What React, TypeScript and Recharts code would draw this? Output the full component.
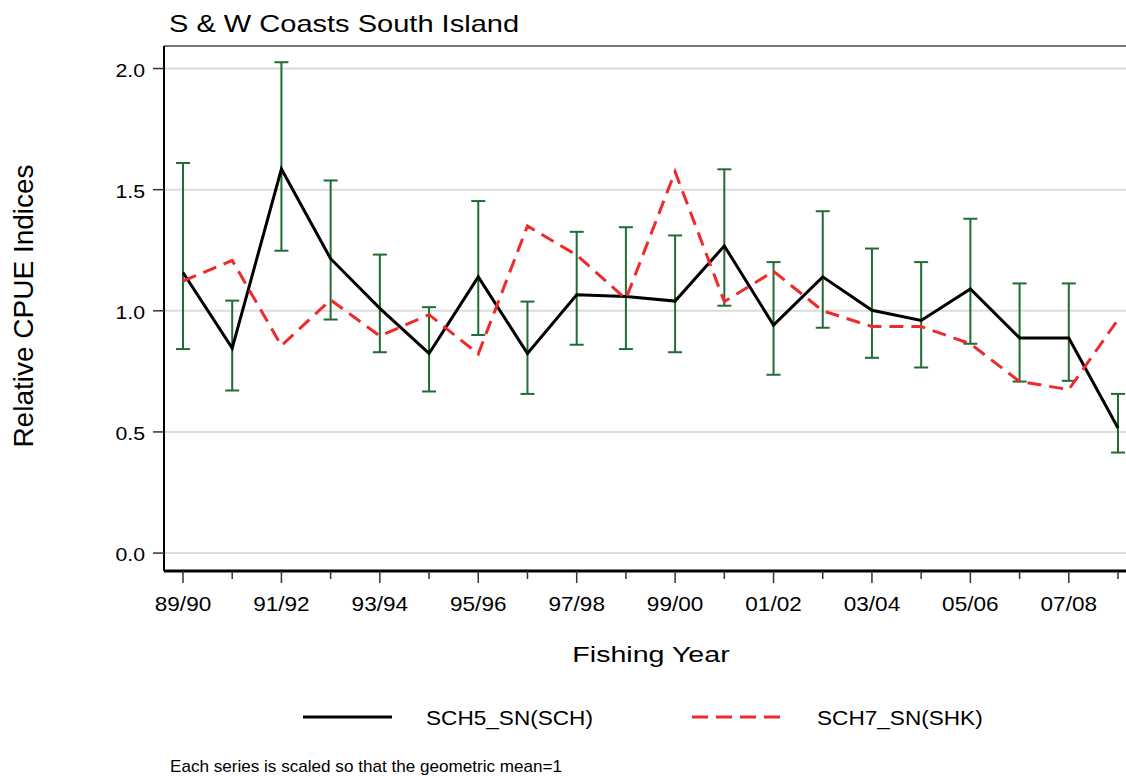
import React from 'react';
import { LineChart, Line, XAxis, YAxis, CartesianGrid, ErrorBar, ReferenceLine, Legend } from 'recharts';

const years = [
  '89/90', '90/91', '91/92', '92/93', '93/94', '94/95', '95/96', '96/97', '97/98', '98/99',
  '99/00', '00/01', '01/02', '02/03', '03/04', '04/05', '05/06', '06/07', '07/08', '08/09',
];

// SCH5_SN(SCH) index with confidence bounds
const sch5 = [1.158, 0.846, 1.585, 1.215, 1.01, 0.824, 1.14, 0.824, 1.066, 1.059, 1.04, 1.268, 0.941, 1.14, 1.002, 0.96, 1.09, 0.888, 0.888, 0.516];
const sch5Lower = [0.842, 0.671, 1.248, 0.964, 0.829, 0.667, 0.9, 0.657, 0.86, 0.842, 0.829, 1.021, 0.736, 0.93, 0.806, 0.766, 0.864, 0.708, 0.711, 0.415];
const sch5Upper = [1.61, 1.042, 2.026, 1.538, 1.232, 1.015, 1.453, 1.038, 1.326, 1.345, 1.311, 1.584, 1.201, 1.411, 1.257, 1.201, 1.38, 1.113, 1.113, 0.657];

// SCH7_SN(SHK) index
const sch7 = [1.123, 1.208, 0.856, 1.045, 0.896, 0.984, 0.822, 1.35, 1.23, 1.049, 1.574, 1.038, 1.163, 1.0, 0.935, 0.935, 0.864, 0.708, 0.675, 0.964];

const yTicks = [0, 0.5, 1, 1.5, 2];
const yMin = -0.074;
const yMax = 2.093;

const FONT = '"Liberation Sans", Arial, sans-serif';
const GREEN = '#216B35';
const RED = '#EE2A2A';

const table = years.map((year, i) => ({
  idx: i,
  year,
  sch5: sch5[i],
  sch5Err: [sch5[i] - sch5Lower[i], sch5Upper[i] - sch5[i]],
  sch7: sch7[i],
}));

// text stretched horizontally like the original raster
const WideText = ({ x, y, size, sx = 1, anchor = 'start', children }: any) => (
  <text
    transform={`translate(${x},${y}) scale(${sx},1)`}
    fontSize={size}
    fontFamily={FONT}
    textAnchor={anchor}
    fill="#000"
  >
    {children}
  </text>
);

const XTick = ({ x, y, payload }: any) => {
  const major = payload.value % 2 === 0;
  return (
    <g>
      <line x1={x} x2={x} y1={y} y2={y + (major ? 12 : 8)} stroke="#333" strokeWidth={1.5} />
      {major && (
        <WideText x={x} y={y + 40} size={20} sx={1.13} anchor="middle">
          {years[payload.value]}
        </WideText>
      )}
    </g>
  );
};

const YTick = ({ x, y, payload }: any) => (
  <g>
    <line x1={x - 11} x2={x} y1={y} y2={y} stroke="#333" strokeWidth={1.5} />
    <WideText x={x - 19} y={y + 8} size={19} sx={1.12} anchor="end">
      {Number(payload.value).toFixed(1)}
    </WideText>
  </g>
);

const LegendContent = () => (
  <svg width={1126} height={50}>
    <line x1={303} x2={392} y1={27} y2={27} stroke="#000" strokeWidth={3} />
    <WideText x={426} y={35} size={20} sx={1.13}>SCH5_SN(SCH)</WideText>
    <line x1={692} x2={782} y1={27} y2={27} stroke={RED} strokeWidth={3} strokeDasharray="16 8" />
    <WideText x={817} y={35} size={20} sx={1.13}>SCH7_SN(SHK)</WideText>
  </svg>
);

const App: React.FC = () => {
  return (
    <div style={{ position: 'absolute', left: 0, top: 0, width: 1126, height: 776, overflow: 'hidden', background: '#fff' }}>
      <svg width={1126} height={776} style={{ position: 'absolute', left: 0, top: 0 }}>
        <WideText x={169} y={32} size={24} sx={1.21}>S &amp; W Coasts South Island</WideText>
        <WideText x={170} y={772} size={16} sx={1.07}>Each series is scaled so that the geometric mean=1</WideText>
        <text
          transform="translate(33,306) rotate(-90)"
          fontSize={28}
          fontFamily={FONT}
          textAnchor="middle"
          fill="#000"
        >
          Relative CPUE Indices
        </text>
        <WideText x={651} y={662} size={22} sx={1.3} anchor="middle">Fishing Year</WideText>
      </svg>
      <div style={{ position: 'absolute', left: 0, top: 0 }}>
        <LineChart width={1137} height={776} data={table} margin={{ top: 46, right: 0, bottom: 0, left: 163 }}>
          <CartesianGrid vertical={false} stroke="#dcdcdc" strokeWidth={2} />
          <ReferenceLine y={yMax} stroke="#555" strokeWidth={1.5} />
          <XAxis
            dataKey="idx"
            type="number"
            domain={[-0.386, 19.386]}
            ticks={years.map((_, i) => i)}
            interval={0}
            allowDataOverflow
            height={155}
            tickSize={0}
            tickMargin={0}
            tickLine={false}
            tick={<XTick />}
            axisLine={{ stroke: '#000', strokeWidth: 3 }}
          />
          <YAxis
            type="number"
            domain={[yMin, yMax]}
            ticks={yTicks}
            interval={0}
            allowDataOverflow
            width={1}
            tickSize={0}
            tickMargin={0}
            tickLine={false}
            tick={<YTick />}
            axisLine={{ stroke: '#000', strokeWidth: 2 }}
          />
          <Legend content={<LegendContent />} wrapperStyle={{ position: 'absolute', left: 0, top: 690, width: 1126, height: 50 }} />
          <Line
            type="linear"
            dataKey="sch5"
            name="SCH5_SN(SCH)"
            stroke="#000"
            strokeWidth={3}
            dot={false}
            isAnimationActive={false}
          >
            <ErrorBar dataKey="sch5Err" direction="y" width={7} stroke={GREEN} strokeWidth={2} isAnimationActive={false} />
          </Line>
          <Line
            type="linear"
            dataKey="sch7"
            name="SCH7_SN(SHK)"
            stroke={RED}
            strokeWidth={3}
            strokeDasharray="14 8"
            dot={false}
            isAnimationActive={false}
          />
        </LineChart>
      </div>
    </div>
  );
};

export default App;
